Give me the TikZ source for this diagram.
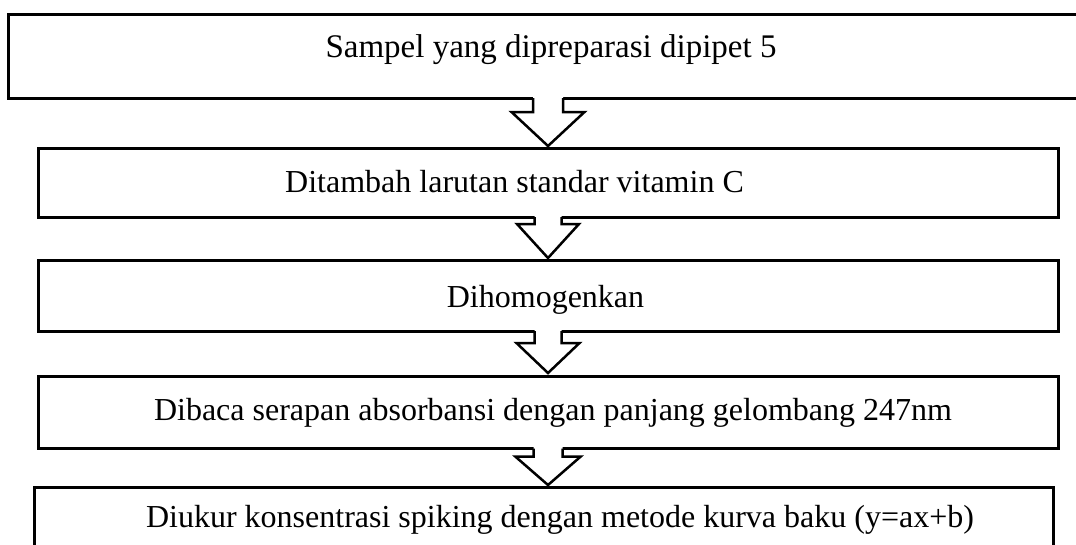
\documentclass[tikz,border=0pt]{standalone}
\usepackage{fontspec}
\setmainfont{Liberation Serif}
\usetikzlibrary{calc}

% block arrow between two boxes: from, to, shaft length, shaft half width, head half width, tip gap
\newcommand{\blockarrow}[6]{%
  \fill[white] ($(#1.south-|ax)+(-#4,-2)$) -- ($(#1.south-|ax)+(-#4,#3)$)
    -- ($(#1.south-|ax)+(-#5,#3)$) -- ($(#2.north-|ax)+(0,-#6)$)
    -- ($(#1.south-|ax)+(#5,#3)$) -- ($(#1.south-|ax)+(#4,#3)$)
    -- ($(#1.south-|ax)+(#4,-2)$) -- cycle;
  \draw[arrowline] ($(#1.south-|ax)+(-#4,0)$) -- ($(#1.south-|ax)+(-#4,#3)$)
    -- ($(#1.south-|ax)+(-#5,#3)$) -- ($(#2.north-|ax)+(0,-#6)$)
    -- ($(#1.south-|ax)+(#5,#3)$) -- ($(#1.south-|ax)+(#4,#3)$)
    -- ($(#1.south-|ax)+(#4,0)$);
}

\begin{document}
\begin{tikzpicture}[x=1pt, y=-1pt,
  box/.style={draw=black, line width=3pt, rectangle, outer sep=0pt, inner sep=0pt, anchor=north west},
  label/.style={anchor=base, inner sep=0pt, font=\fontsize{32}{38}\selectfont},
  arrowline/.style={draw=black, line width=2.5pt, line join=miter}]
  \clip (0,0) rectangle (1076,544);
  \fill[white] (0,0) rectangle (1076,544);

  \coordinate (ax) at (548,0);

  % process boxes
  \node[box, minimum width=1090pt, minimum height=83.3pt] (b1) at (8.3,14.7) {};
  \node[box, minimum width=1020.4pt, minimum height=68.7pt] (b2) at (38.3,148.3) {};
  \node[box, minimum width=1020.4pt, minimum height=70.7pt] (b3) at (38.3,260.3) {};
  \node[box, minimum width=1019.7pt, minimum height=72pt] (b4) at (38.3,376.7) {};
  \node[box, minimum width=1019.7pt, minimum height=80pt] (b5) at (34,487.7) {};

  % step texts
  \node[label, font=\fontsize{33}{40}\selectfont] (t1) at (551,57) {Sampel yang dipreparasi dipipet 5};
  \node[label] (t2) at (514.5,192) {Ditambah larutan standar vitamin C};
  \node[label] (t3) at (545.5,307) {Dihomogenkan};
  \node[label] (t4) at (553,420) {Dibaca serapan absorbansi dengan panjang gelombang 247nm};
  \node[label] (t5) at (560,527) {Diukur konsentrasi spiking dengan metode kurva baku (y=ax+b)};

  % arrows between steps
  \blockarrow{b1}{b2}{14}{15}{36.5}{2.3}
  \blockarrow{b2}{b3}{7}{13.5}{31}{2.3}
  \blockarrow{b3}{b4}{12}{13.5}{31.5}{3.7}
  \blockarrow{b4}{b5}{8}{14.5}{32.5}{2.7}
\end{tikzpicture}
\end{document}
